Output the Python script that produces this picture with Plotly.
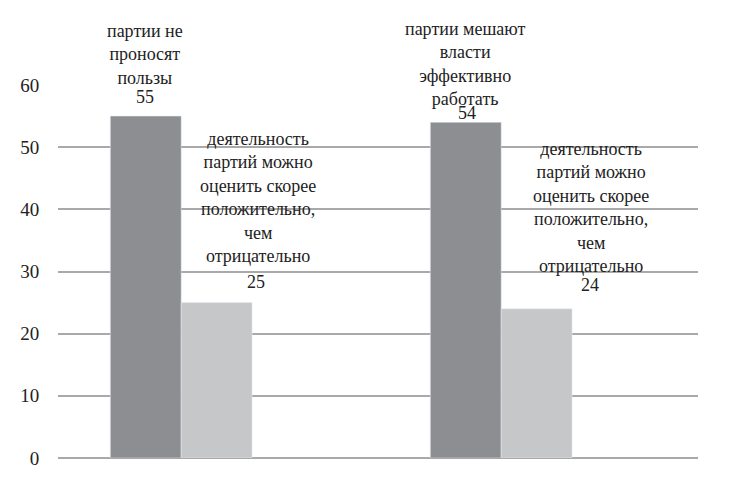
import plotly.graph_objects as go

categories = ["Вопрос 1", "Вопрос 2"]
dark_values = [55, 54]
light_values = [25, 24]
dark_names = ["партии не<br>проносят<br>пользы",
              "партии мешают<br>власти<br>эффективно<br>работать"]
light_names = ["деятельность<br>партий можно<br>оценить скорее<br>положительно,<br>чем<br>отрицательно",
               "деятельность<br>партий можно<br>оценить скорее<br>положительно,<br>чем<br>отрицательно"]
y_ticks = [0, 10, 20, 30, 40, 50, 60]

DARK = "#8d8e91"
LIGHT = "#c6c7c9"
GRID = "#a9a9a9"
FONT = "Liberation Serif"

fig = go.Figure()
fig.add_trace(go.Bar(x=categories, y=dark_values, marker=dict(color=DARK), showlegend=False))
fig.add_trace(go.Bar(x=categories, y=light_values, marker=dict(color=LIGHT), showlegend=False))

# label styling offsets (px) relative to category centre
val_shift = [(-36, 19), (75, 21), (-34, 9), (89, 24)]
name_shift = [(-36, 62), (77, 105), (-36, 58), (90, 101)]

anns = []
for i, c in enumerate(categories):
    for j, (vals, names) in enumerate(((dark_values, dark_names), (light_values, light_names))):
        vx, vy = val_shift[2 * i + j]
        nx, ny = name_shift[2 * i + j]
        anns.append(dict(x=c, y=vals[i], text=str(vals[i]), showarrow=False,
                         xshift=vx, yshift=vy,
                         font=dict(family=FONT, size=18, color="#222222")))
        anns.append(dict(x=c, y=vals[i], text=names[i], showarrow=False,
                         xshift=nx, yshift=ny,
                         font=dict(family=FONT, size=18, color="#222222")))

fig.update_layout(
    width=749, height=488,
    margin=dict(l=45, r=59, t=77, b=38),
    paper_bgcolor="white", plot_bgcolor="white",
    barmode="group", bargap=0.557,
    annotations=anns,
    xaxis=dict(range=[-0.385, 1.615], showgrid=False, zeroline=False,
               tickfont=dict(color="rgba(0,0,0,0)", size=8)),
    yaxis=dict(range=[0, 60], tickvals=y_ticks, gridcolor=GRID, gridwidth=1.5,
               zerolinecolor=GRID, zerolinewidth=1.5,
               ticks="outside", ticklen=14, tickcolor="rgba(0,0,0,0)",
               tickfont=dict(family=FONT, size=19, color="#222222")),
)

fig.write_html("out.html")
